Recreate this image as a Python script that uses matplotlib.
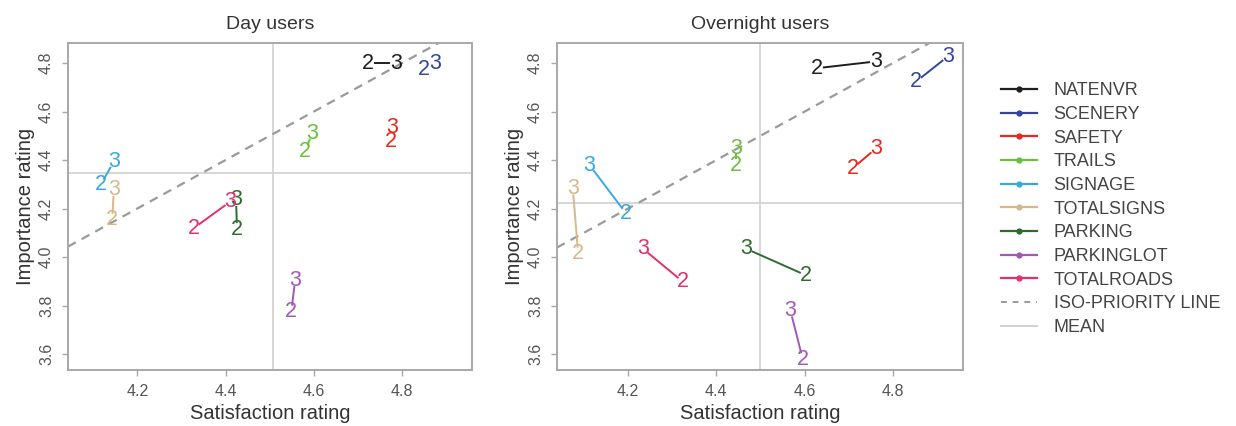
import matplotlib
matplotlib.use("Agg")
import matplotlib.pyplot as plt
from matplotlib.lines import Line2D
import numpy as np

plt.rcParams['font.family'] = ['Liberation Sans', 'DejaVu Sans']

# categories and colours
categories = ["NATENVR", "SCENERY", "SAFETY", "TRAILS", "SIGNAGE",
              "TOTALSIGNS", "PARKING", "PARKINGLOT", "TOTALROADS"]
colors = ["#1e1e1e", "#34459c", "#e6281e", "#6abf3c", "#3aa8df",
          "#d8b88a", "#2f6b2f", "#a259b6", "#e3306b"]

# Day users: (satisfaction, importance) for group 2 and group 3
day_sat2 = [4.722, 4.849, 4.775, 4.581, 4.117, 4.143, 4.426, 4.549, 4.328]
day_imp2 = [4.800, 4.772, 4.478, 4.437, 4.298, 4.153, 4.115, 3.775, 4.119]
day_sat3 = [4.786, 4.875, 4.777, 4.596, 4.147, 4.147, 4.424, 4.558, 4.411]
day_imp3 = [4.800, 4.800, 4.536, 4.511, 4.394, 4.277, 4.236, 3.905, 4.229]
day_mean_sat = 4.507
day_mean_imp = 4.346

# Overnight users
night_sat2 = [4.628, 4.853, 4.709, 4.445, 4.196, 4.087, 4.604, 4.596, 4.325]
night_imp2 = [4.779, 4.724, 4.366, 4.379, 4.179, 4.014, 3.924, 3.579, 3.897]
night_sat3 = [4.762, 4.925, 4.762, 4.445, 4.113, 4.075, 4.468, 4.568, 4.234]
night_imp3 = [4.807, 4.828, 4.448, 4.448, 4.379, 4.283, 4.034, 3.779, 4.034]
night_mean_sat = 4.499
night_mean_imp = 4.223

xticks = [4.2, 4.4, 4.6, 4.8]
yticks = [3.6, 3.8, 4.0, 4.2, 4.4, 4.6, 4.8]

fig = plt.figure(figsize=(12.36, 4.26), dpi=100)
ax1 = fig.add_axes([0.055, 0.1315, 0.327, 0.767])
ax2 = fig.add_axes([0.4506, 0.1315, 0.3285, 0.767])

frame_col = "#a8a8a8"
text_col = "#333333"
tick_col = "#555555"


def draw_panel(ax, title, sat2, imp2, sat3, imp3, msat, mimp, xlim):
    ax.set_xlim(*xlim)
    ax.set_ylim(3.534, 4.882)
    # iso-priority line (satisfaction == importance)
    xx = np.array(xlim)
    ax.plot(xx, xx, ls=(0, (4, 3)), color="#9a9a9a", lw=1.6, zorder=1)
    ax.axvline(msat, color="#d0d0d0", lw=1.2, zorder=0)
    ax.axhline(mimp, color="#d0d0d0", lw=1.2, zorder=0)
    for i in range(len(categories)):
        p2 = ax.transData.transform((sat2[i], imp2[i]))
        p3 = ax.transData.transform((sat3[i], imp3[i]))
        d = p3 - p2
        n = np.hypot(*d)
        if n > 16:
            u = d / n
            a = ax.transData.inverted().transform(p2 + u * 7)
            b = ax.transData.inverted().transform(p3 - u * 7)
            ax.plot([a[0], b[0]], [a[1], b[1]], color=colors[i], lw=1.4, zorder=2)
        for x, y, lab in [(sat2[i], imp2[i], "2"), (sat3[i], imp3[i], "3")]:
            ax.text(x, y, lab, color=colors[i], fontsize=15.5, ha="center",
                    va="center", zorder=3)
    ax.set_xticks(xticks)
    ax.set_yticks(yticks)
    ax.set_xticklabels([f"{v:.1f}" for v in xticks])
    ax.set_yticklabels([f"{v:.1f}" for v in yticks], rotation=90, va="center")
    ax.tick_params(colors=frame_col, labelcolor=tick_col, labelsize=11.5,
                   length=4, width=1, pad=6)
    for s in ax.spines.values():
        s.set_color(frame_col)
        s.set_linewidth(1.4)
    ax.set_xlabel("Satisfaction rating", fontsize=14.5, color=text_col, labelpad=4)
    ax.set_ylabel("Importance rating", fontsize=14.5, color=text_col, labelpad=3)
    ax.set_title(title, fontsize=14, color=text_col, pad=10)


draw_panel(ax1, "Day users", day_sat2, day_imp2, day_sat3, day_imp3,
           day_mean_sat, day_mean_imp, (4.043, 4.959))
draw_panel(ax2, "Overnight users", night_sat2, night_imp2, night_sat3, night_imp3,
           night_mean_sat, night_mean_imp, (4.039, 4.959))

handles = [Line2D([0], [0], color=c, lw=1.6, marker="o", markersize=3.5)
           for c in colors]
handles.append(Line2D([0], [0], color="#9a9a9a", lw=1.4, ls=(0, (3, 3))))
handles.append(Line2D([0], [0], color="#d0d0d0", lw=1.4))
labels = categories + ["ISO-PRIORITY LINE", "MEAN"]
leg = fig.legend(handles, labels, loc="upper left", bbox_to_anchor=(0.797, 0.845),
                 frameon=False, fontsize=13, labelspacing=0.37, handlelength=2.0,
                 handletextpad=0.9)
for t in leg.get_texts():
    t.set_color("#444444")

fig.savefig("out.png", dpi=100)
